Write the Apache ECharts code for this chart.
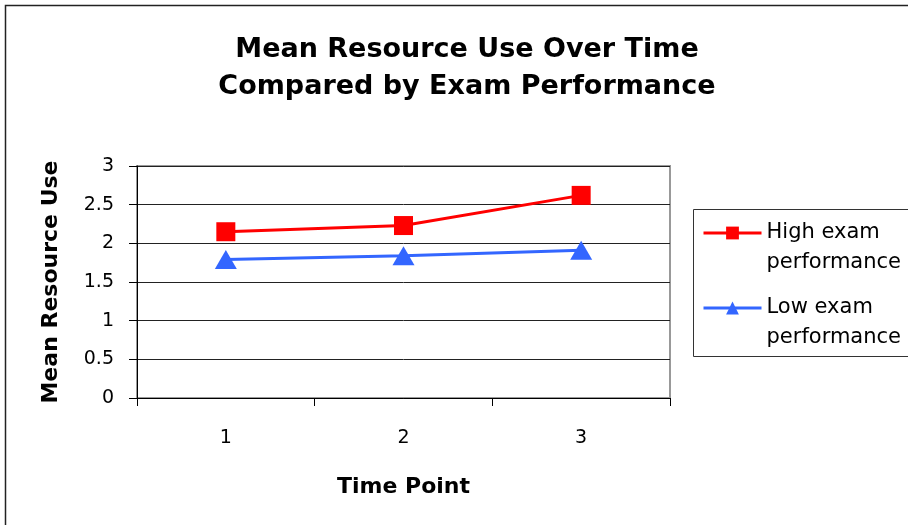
<!DOCTYPE html>
<html>
<head>
<meta charset="utf-8">
<script src="https://cdn.jsdelivr.net/npm/echarts@6/dist/echarts.min.js"></script>
<style>
  html, body { margin: 0; padding: 0; background: #fff; }
  #chart { width: 908px; height: 525px; }
</style>
</head>
<body>
<div id="chart"></div>
<script>
// Time points on the x axis
const timePoints = ['1', '2', '3'];
// Mean resource use by exam-performance group
const highExam = [2.15, 2.23, 2.62];
const lowExam = [1.79, 1.84, 1.91];
// Series names as shown in the legend
const seriesNames = ['High exam performance', 'Low exam performance'];
// Legend text wrapped onto two lines; the leading blank line keeps the
// first text line level with the legend symbol
const legendLabels = { 'High exam performance': '\nHigh exam\nperformance', 'Low exam performance': '\nLow exam\nperformance' };

const FONT = '"DejaVu Sans", "Liberation Sans", Arial, sans-serif';
const chart = echarts.init(document.getElementById('chart'), null, { renderer: 'canvas' });

chart.setOption({
  backgroundColor: '#fff',
  animation: false,
  textStyle: { fontFamily: FONT, color: '#000' },
  title: {
    text: 'Mean Resource Use Over Time\nCompared by Exam Performance',
    left: 462,
    top: 26,
    textAlign: 'center',
    textStyle: { fontFamily: FONT, fontSize: 27, fontWeight: 'bold', lineHeight: 37, color: '#000' }
  },
  graphic: [
    {
      // outer chart frame
      type: 'rect',
      shape: { x: 5.5, y: 5.5, width: 1000, height: 1000 },
      style: { fill: null, stroke: '#222', lineWidth: 1.5 },
      silent: true,
      z: -1
    },
    {
      // legend frame
      type: 'rect',
      shape: { x: 693.5, y: 209.5, width: 400, height: 147 },
      style: { fill: null, stroke: '#333', lineWidth: 1 },
      silent: true,
      z: -1
    }
  ],
  legend: {
    orient: 'vertical',
    left: 702,
    top: 188,
    padding: 0,
    itemGap: -15,
    itemWidth: 58,
    itemHeight: 16,
    lineStyle: { width: 3 },
    formatter: name => legendLabels[name],
    textStyle: { fontFamily: FONT, fontSize: 21, lineHeight: 30, color: '#000' },
    data: seriesNames
  },
  grid: {
    left: 137,
    top: 166,
    width: 533,
    height: 232,
    show: true,
    borderColor: '#999',
    borderWidth: 2,
    backgroundColor: 'transparent'
  },
  xAxis: {
    type: 'category',
    data: timePoints,
    boundaryGap: true,
    name: 'Time Point',
    nameLocation: 'middle',
    nameGap: 78,
    nameTextStyle: { fontFamily: FONT, fontSize: 22, fontWeight: 'bold', color: '#000' },
    axisLine: { lineStyle: { color: '#000', width: 1 } },
    axisTick: { show: true, inside: false, length: 8, alignWithLabel: false, lineStyle: { color: '#000' } },
    axisLabel: { fontFamily: FONT, fontSize: 19, color: '#000', margin: 31 },
    splitLine: { show: false }
  },
  yAxis: {
    type: 'value',
    min: 0,
    max: 3,
    interval: 0.5,
    name: 'Mean Resource Use',
    nameLocation: 'middle',
    nameGap: 75,
    nameRotate: 90,
    nameTextStyle: { fontFamily: FONT, fontSize: 22, fontWeight: 'bold', color: '#000' },
    axisLine: { show: true, lineStyle: { color: '#000', width: 1 } },
    axisTick: { show: true, length: 8, lineStyle: { color: '#000' } },
    axisLabel: { fontFamily: FONT, fontSize: 19, color: '#000', margin: 23 },
    splitLine: { show: true, lineStyle: { color: '#222', width: 1 } }
  },
  series: [
    {
      name: seriesNames[0],
      type: 'line',
      data: highExam,
      symbol: 'rect',
      symbolSize: 19,
      lineStyle: { color: '#ff0000', width: 3 },
      itemStyle: { color: '#ff0000' },
      z: 3
    },
    {
      name: seriesNames[1],
      type: 'line',
      data: lowExam,
      symbol: 'triangle',
      symbolSize: [22, 19],
      lineStyle: { color: '#3366ff', width: 3 },
      itemStyle: { color: '#3366ff' },
      z: 3
    }
  ]
});
</script>
</body>
</html>
